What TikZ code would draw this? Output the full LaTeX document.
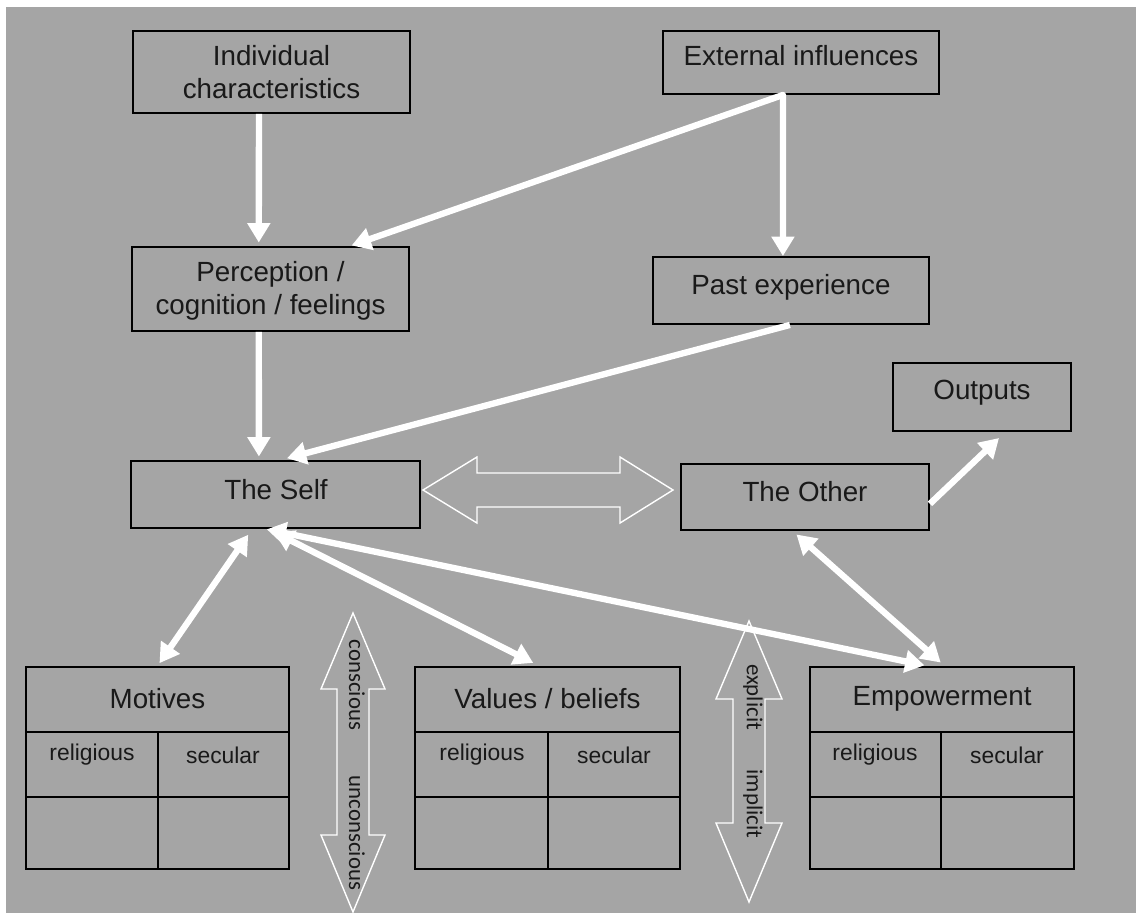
\documentclass[tikz,border=0pt]{standalone}
\usepackage{fontspec}
\setmainfont{Liberation Sans}
\newfontfamily\calib{Carlito}
\usetikzlibrary{arrows.meta,calc}
\definecolor{bg}{HTML}{A5A5A5}
\begin{document}
\begin{tikzpicture}[x=0.02cm,y=-0.02cm,
  box/.style={draw=black,line width=1.1pt,rectangle,inner sep=0pt},
  ttl/.style={font=\fontsize{15.8}{19}\selectfont,align=center,text=black!90,inner sep=0pt},
  sm/.style={font=\fontsize{13}{15}\selectfont,text=black!90,inner sep=0pt},
  vt/.style={font=\calib\fontsize{13}{15}\selectfont,text=black!90,rotate=-90,inner sep=0pt},
  grid/.style={draw=black,line width=1.1pt},
  conn/.style={draw=white,line width=3.6pt,-{Triangle[width=12.5pt,length=11pt]}},
  dconn/.style={draw=white,line width=3.6pt,{Triangle[width=12.5pt,length=11pt]}-{Triangle[width=12.5pt,length=11pt]}},
  hollow/.style={draw=white,line width=0.8pt,line join=miter}]
\useasboundingbox (0,0) rectangle (1136,913);
\fill[white] (0,0) rectangle (1136,913);
\fill[bg] (6,7) rectangle (1136,913);

% boxes
\node[box,minimum width=5.54cm,minimum height=1.64cm] (ind) at (271.5,72) {};
\node[ttl] (indt) at (271.5,72) {Individual\\characteristics};
\node[box,minimum width=5.52cm,minimum height=1.26cm] (ext) at (801,62.5) {};
\node[ttl] (extt) at (801,56) {External influences};
\node[box,minimum width=5.54cm,minimum height=1.68cm] (per) at (270.5,289) {};
\node[ttl] (pert) at (270.5,291) {Perception /\\cognition / feelings};
\node[box,minimum width=5.52cm,minimum height=1.34cm] (past) at (791,290.5) {};
\node[ttl] (pastt) at (791,287) {Past experience};
\node[box,minimum width=5.78cm,minimum height=1.34cm] (self) at (275.5,494.5) {};
\node[ttl] (selft) at (276,490) {The Self};
\node[box,minimum width=4.96cm,minimum height=1.32cm] (other) at (805,497) {};
\node[ttl] (othert) at (805,492) {The Other};
\node[box,minimum width=3.56cm,minimum height=1.36cm] (out) at (982,397) {};
\node[ttl] (outt) at (982,393) {Outputs};

% tables
\node[box,minimum width=5.26cm,minimum height=1.3cm] (mot) at (157.5,699.5) {};
\node[ttl] (mott) at (157.5,699) {Motives};
\draw[grid] (26,732) -- (26,869) -- (289,869) -- (289,732) (26,797) -- (289,797) (158,732) -- (158,869);
\node[sm] (motr) at (92,755) {religious};
\node[sm] (mots) at (223,755) {secular};

\node[box,minimum width=5.3cm,minimum height=1.3cm] (val) at (547.5,699.5) {};
\node[ttl] (valt) at (547.5,699) {Values / beliefs};
\draw[grid] (415,732) -- (415,869) -- (680,869) -- (680,732) (415,797) -- (680,797) (548,732) -- (548,869);
\node[sm] (valr) at (482,755) {religious};
\node[sm] (vals) at (614,755) {secular};

\node[box,minimum width=5.28cm,minimum height=1.3cm] (emp) at (942,699.5) {};
\node[ttl] (empt) at (942,699) {Empowerment};
\draw[grid] (810,732) -- (810,869) -- (1074,869) -- (1074,732) (810,797) -- (1074,797) (941,732) -- (941,869);
\node[sm] (empr) at (875,755) {religious};
\node[sm] (emps) at (1007,755) {secular};

% hollow arrows
\draw[hollow] (423,490) -- (477,457) -- (477,473) -- (620,473) -- (620,457) -- (673,490)
  -- (620,523) -- (620,507) -- (477,507) -- (477,523) -- cycle;
\draw[hollow] (353,613) -- (385,689) -- (369,689) -- (369,835) -- (385,835) -- (353,912)
  -- (321,835) -- (337,835) -- (337,689) -- (321,689) -- cycle;
\draw[hollow] (749,621) -- (782,699) -- (765,699) -- (765,823) -- (782,823) -- (749,902)
  -- (716,823) -- (733,823) -- (733,699) -- (716,699) -- cycle;
\node[vt] (cons) at (357,685) {conscious};
\node[vt] (uncons) at (357,833) {unconscious};
\node[vt] (expl) at (753,697) {explicit};
\node[vt] (impl) at (753,804) {implicit};

% connectors
\draw[conn,shorten >=2pt] ($(ind.south west)!0.455!(ind.south east)$) -- ($(per.north west)!0.458!(per.north east)$);
\draw[conn,shorten >=1pt] ($(ext.south west)!0.435!(ext.south east)$) -- ($(per.north west)!0.785!(per.north east)$);
\draw[conn,line cap=round] ($(ext.south west)!0.435!(ext.south east)$) -- ($(past.north west)!0.471!(past.north east)$);
\draw[conn,shorten >=2pt] ($(per.south west)!0.458!(per.south east)$) -- ($(self.north west)!0.443!(self.north east)$);
\draw[conn,shorten >=4pt] ($(past.south west)!0.496!(past.south east)$) -- ($(self.north west)!0.516!(self.north east)$);
\draw[conn,shorten >=5pt] ($(other.north east)!0.6!(other.south east)$) -- ($(out.south west)!0.63!(out.south east)$);
\draw[dconn,shorten <=4pt,shorten >=2pt] ($(self.south west)!0.42!(self.south east)$) -- (mot.north);
\draw[dconn,shorten <=4pt,shorten >=4pt] ($(self.south west)!0.474!(self.south east)$) -- ($(val.north west)!0.47!(val.north east)$);
\draw[dconn,shorten <=1pt,shorten >=2pt] ($(self.south west)!0.464!(self.south east)$) -- ($(emp.north west)!0.447!(emp.north east)$);
\draw[dconn,shorten <=3pt,shorten >=3pt] ($(other.south west)!0.45!(other.south east)$) -- ($(emp.north west)!0.51!(emp.north east)$);
\end{tikzpicture}
\end{document}
